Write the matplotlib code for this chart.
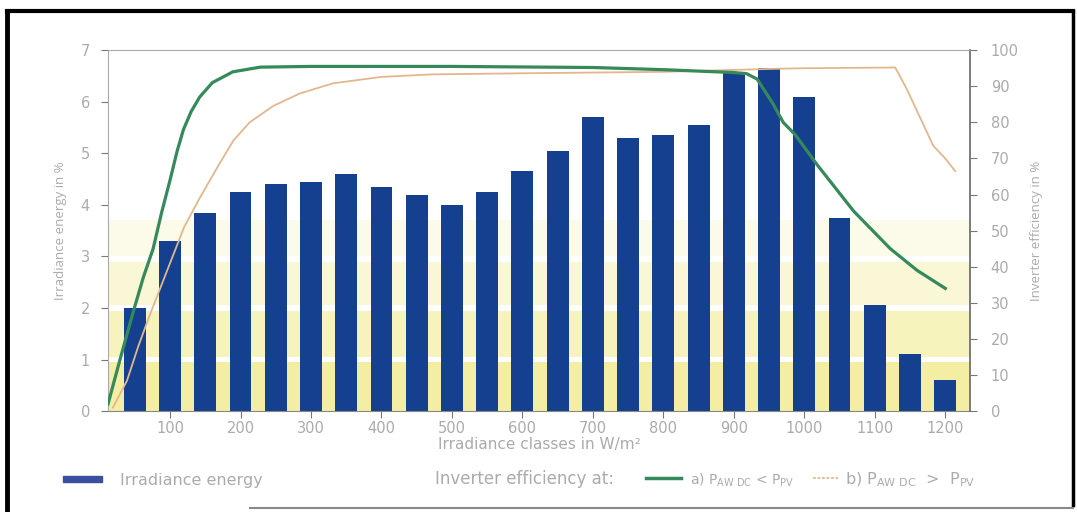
import matplotlib
matplotlib.use("Agg")
import matplotlib.pyplot as plt
from matplotlib.patches import Rectangle
from matplotlib.lines import Line2D

# ---- data ----
irr_classes = [50, 100, 150, 200, 250, 300, 350, 400, 450, 500, 550, 600,
               650, 700, 750, 800, 850, 900, 950, 1000, 1050, 1100, 1150, 1200]
irr_energy = [2.0, 3.3, 3.85, 4.25, 4.4, 4.45, 4.6, 4.35, 4.2, 4.0, 4.25, 4.65,
              5.05, 5.7, 5.3, 5.35, 5.55, 6.55, 6.65, 6.1, 3.75, 2.05, 1.1, 0.6]

eff_a_x = [12, 30, 47, 62, 76, 88, 100, 110, 119, 130, 142, 160, 189, 228, 300,
           500, 700, 800, 850, 900, 918, 933, 956, 970, 987, 1018, 1070, 1122, 1160, 1200]
eff_a_y = [2, 15, 27, 37, 45, 55, 64, 72, 78, 83, 87, 91, 94, 95.3, 95.5,
           95.5, 95.2, 94.6, 94.2, 93.8, 93.5, 92, 85, 80, 76.6, 68.3, 55.4, 45, 39, 34]

eff_b_x = [19, 39, 55, 72, 86, 100, 120, 142, 170, 190, 213, 246, 284, 331, 400, 473,
           600, 800, 950, 1000, 1129, 1146, 1165, 1183, 1200, 1214]
eff_b_y = [1, 8.5, 18, 27, 34, 41, 51, 59, 68.5, 75, 80, 84.5, 88, 90.8, 92.6, 93.3,
           93.6, 94, 94.8, 95, 95.2, 89, 81, 73.5, 70, 66.5]

x_ticks = [100, 200, 300, 400, 500, 600, 700, 800, 900, 1000, 1100, 1200]
y_left_ticks = [0, 1, 2, 3, 4, 5, 6, 7]
y_right_ticks = [0, 10, 20, 30, 40, 50, 60, 70, 80, 90, 100]

# ---- style ----
FONT = "DejaVu Sans"
VFONT = "Open Sans"
TXT = "#ababab"
BAR = "#14408f"
GREEN = "#35895a"
TAN = "#e2b78e"

fig = plt.figure(figsize=(10.77, 5.12), dpi=100)
ax = fig.add_axes([0.1003, 0.197, 0.8003, 0.705])
ax2 = ax.twinx()

ax.set_xlim(12, 1235)
ax.set_ylim(0, 7)
ax2.set_ylim(0, 100)

# background yellow bands
bands = [(0, 0.95, "#f3eea3"), (1.05, 1.95, "#f6f3bd"),
         (2.05, 2.9, "#f9f7d5"), (3.0, 3.7, "#fcfbea")]
for lo, hi, c in bands:
    ax.axhspan(lo, hi, color=c, lw=0, zorder=0)

ax.bar(irr_classes, irr_energy, width=31, color=BAR, zorder=2)

ax2.plot(eff_b_x, eff_b_y, color=TAN, lw=1.3, zorder=3)
ax2.plot(eff_a_x, eff_a_y, color=GREEN, lw=2.3, zorder=4)

# axes styling
ax.set_xticks(x_ticks)
ax.set_yticks(y_left_ticks)
ax2.set_yticks(y_right_ticks)
for a in (ax, ax2):
    a.tick_params(colors="#777777", labelcolor=TXT, labelsize=10.5, length=5, width=0.8)
    for lab in a.get_xticklabels() + a.get_yticklabels():
        lab.set_fontfamily(FONT)
ax.tick_params(axis="x", pad=2)
ax.tick_params(axis="y", pad=8)
ax2.tick_params(axis="y", pad=10)

ax.spines["left"].set_color("#aaaaaa")
ax.spines["bottom"].set_color("#888888")
ax.spines["top"].set_visible(False)
ax.spines["right"].set_visible(False)
ax2.spines["left"].set_visible(False)
ax2.spines["bottom"].set_visible(False)
ax2.spines["top"].set_color("#aaaaaa")
ax2.spines["top"].set_linestyle((0, (1, 1)))
ax2.spines["right"].set_color("#666666")
ax2.spines["right"].set_linewidth(1.2)

ax.set_ylabel("Irradiance energy in %", fontfamily=VFONT, color=TXT, fontsize=9.5, labelpad=10)
ax2.set_ylabel("Inverter efficiency in %", fontfamily=VFONT, color=TXT, fontsize=9.5, labelpad=8)
ax.set_xlabel("Irradiance classes in W/m²", fontfamily=FONT, color=TXT, fontsize=11, labelpad=1)

# ---- legend (figure coordinates) ----
W, H = 1077.0, 512.0
def fx(px):
    return px / W
def fy(py):
    return 1 - py / H

fig.patches.append(Rectangle((fx(63), fy(482)), fx(102) - fx(63), fy(476) - fy(482),
                             transform=fig.transFigure, color="#3a4f9e", zorder=5))
fig.text(fx(120), fy(480), "Irradiance energy", fontfamily=FONT, color=TXT,
         fontsize=11.5, va="center", ha="left")
fig.text(fx(435), fy(479), "Inverter efficiency at:", fontfamily=FONT, color=TXT,
         fontsize=12, va="center", ha="left")
fig.lines.append(Line2D([fx(646), fx(681)], [fy(478), fy(478)], transform=fig.transFigure,
                        color=GREEN, lw=2.5))
fig.text(fx(690), fy(480), r"a) P$_{\mathregular{AW\ DC}}$ < P$_{\mathregular{PV}}$",
         fontfamily=FONT, color=TXT, fontsize=10, va="center", ha="left")
fig.lines.append(Line2D([fx(813), fx(838)], [fy(478), fy(478)], transform=fig.transFigure,
                        color=TAN, lw=1.3, linestyle=(0, (1.5, 1))))
fig.text(fx(845), fy(480), r"b) P$_{\mathregular{AW\ DC}}$  >  P$_{\mathregular{PV}}$",
         fontfamily=FONT, color=TXT, fontsize=11.5, va="center", ha="left")

# ---- outer frame ----
fig.lines.append(Line2D([fx(7), fx(7)], [fy(11), 0], transform=fig.transFigure,
                        color="black", lw=3.5))
fig.lines.append(Line2D([fx(7), fx(1073)], [fy(11), fy(11)], transform=fig.transFigure,
                        color="black", lw=3.0))
fig.lines.append(Line2D([fx(1073), fx(1073)], [fy(11), fy(505)], transform=fig.transFigure,
                        color="black", lw=2.5))
fig.lines.append(Line2D([fx(250), fx(1073)], [fy(508), fy(508)], transform=fig.transFigure,
                        color="#888888", lw=1.5))

fig.savefig("out.png", dpi=100, facecolor="white")
